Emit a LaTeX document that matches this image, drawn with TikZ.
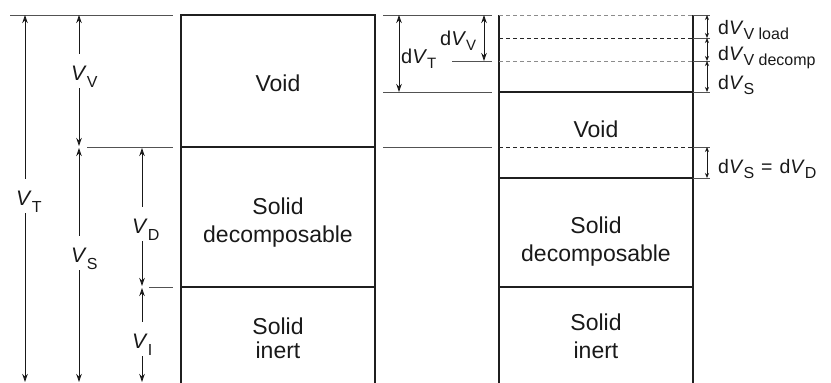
\documentclass[tikz,border=0pt]{standalone}
\usepackage{fontspec}
\setmainfont{Liberation Sans}
\usetikzlibrary{arrows.meta}
% lowered, smaller subscript: #1 drop, #2 size, #3 text
\newcommand{\subtxt}[3]{\raisebox{-#1}{\fontsize{#2}{#2}\selectfont #3}}
\newcommand{\Vit}{\textit{V}}
\tikzset{
  boxline/.style={draw=black!88, line width=1.6pt},
  extline/.style={draw=black!68, line width=0.9pt},
  dashgray/.style={draw=black!45, line width=0.9pt, dash pattern=on 4pt off 3pt},
  dashdark/.style={draw=black!85, line width=0.9pt, dash pattern=on 4pt off 3pt},
  tip/.tip={Stealth[length=8pt,width=5.5pt,inset=2.5pt]},
  smalltip/.tip={Stealth[length=5pt,width=4pt,inset=1.5pt]},
  dimarrow/.style={draw=black!90, line width=0.9pt, -tip},
  bothway/.style={draw=black!90, line width=0.9pt, tip-tip},
  smallway/.style={draw=black!90, line width=0.8pt, smalltip-smalltip},
  boxtext/.style={font=\fontsize{23}{27}\selectfont, anchor=base, inner sep=0pt, text=black!90},
  dimlab/.style={font=\fontsize{21}{21}\selectfont, anchor=base west, inner sep=0pt,
                 text height=26pt, text depth=8pt, text=black!90},
  midlab/.style={font=\fontsize{20}{20}\selectfont, anchor=base west, inner sep=0pt, text=black!90},
  sidelab/.style={font=\fontsize{19.5}{19.5}\selectfont, anchor=base west, inner sep=0pt, text=black!90},
}
\begin{document}
\begin{tikzpicture}[x=1pt,y=-1pt]
\useasboundingbox (0,0) rectangle (831,383);

% ---------- initial state: column on the left ----------
\draw[boxline] (181,383) -- (181,15) -- (375,15) -- (375,383);
\draw[boxline] (181,147) -- (375,147);
\draw[boxline] (181,287) -- (375,287);

\node[boxtext] (lvoid) at (278,91) {Void};
\node[boxtext] (lsd1) at (278,214) {Solid};
\node[boxtext] (lsd2) at (278,242) {decomposable};
\node[boxtext] (lsi1) at (278,334) {Solid};
\node[boxtext] (lsi2) at (278,358) {inert};

% extension lines on the left
\draw[extline] (10,15) -- (173,15);
\draw[extline] (87,147) -- (173,147);
\draw[extline] (149,287) -- (173,287);

% total volume
\coordinate (vtTop) at (25,15);
\coordinate (vtBot) at (25,382);
\node[dimlab] (VT) at (16,205) {\Vit\subtxt{7pt}{16}{T}};
\draw[dimarrow] (VT.north -| vtTop) -- (vtTop);
\draw[dimarrow] (VT.south -| vtBot) -- (vtBot);

% void volume
\coordinate (vvTop) at (79,15);
\coordinate (vvBot) at (79,146);
\node[dimlab] (VV) at (71,80) {\Vit\subtxt{7pt}{16}{V}};
\draw[dimarrow] (VV.north -| vvTop) -- (vvTop);
\draw[dimarrow] (VV.south -| vvBot) -- (vvBot);

% solid volume
\coordinate (vsTop) at (79,148);
\coordinate (vsBot) at (79,382);
\node[dimlab] (VS) at (71,262) {\Vit\subtxt{7pt}{16}{S}};
\draw[dimarrow] (VS.north -| vsTop) -- (vsTop);
\draw[dimarrow] (VS.south -| vsBot) -- (vsBot);

% decomposable solid volume
\coordinate (vdTop) at (142,148);
\coordinate (vdBot) at (142,286);
\node[dimlab] (VD) at (132,233) {\Vit\subtxt{7pt}{16}{D}};
\draw[dimarrow] (VD.north -| vdTop) -- (vdTop);
\draw[dimarrow] (VD.south -| vdBot) -- (vdBot);

% inert solid volume
\coordinate (viTop) at (142,288);
\coordinate (viBot) at (142,382);
\node[dimlab] (VI) at (132,348) {\Vit\subtxt{7pt}{16}{I}};
\draw[dimarrow] (VI.north -| viTop) -- (viTop);
\draw[dimarrow] (VI.south -| viBot) -- (viBot);

% ---------- middle: change of volume ----------
\draw[extline] (383,15) -- (492,15);
\draw[extline] (452,61) -- (492,61);
\draw[extline] (383,92) -- (492,92);
\draw[extline] (383,147) -- (492,147);

\coordinate (dtTop) at (399,15);
\coordinate (dtBot) at (399,92);
\draw[bothway] (dtTop) -- (dtBot);
\node[midlab] (dVT) at (401,63) {d\Vit\subtxt{5pt}{15}{T}};

\coordinate (dvTop) at (484,15);
\coordinate (dvBot) at (484,61);
\draw[bothway] (dvTop) -- (dvBot);
\node[midlab] (dVV) at (440,45) {d\Vit\subtxt{5pt}{15}{V}};

% ---------- final state: column on the right ----------
\draw[boxline] (499,383) -- (499,15);
\draw[boxline] (693,383) -- (693,15);
\draw[dashgray] (499,15) -- (693,15);
\draw[dashdark] (499,38) -- (693,38);
\draw[dashgray] (499,61) -- (693,61);
\draw[boxline] (499,92) -- (693,92);
\draw[dashdark] (499,147) -- (693,147);
\draw[boxline] (499,178) -- (693,178);
\draw[boxline] (499,287) -- (693,287);

\node[boxtext] (rvoid) at (596,137) {Void};
\node[boxtext] (rsd1) at (596,233) {Solid};
\node[boxtext] (rsd2) at (596,261) {decomposable};
\node[boxtext] (rsi1) at (596,330) {Solid};
\node[boxtext] (rsi2) at (596,358) {inert};

% extension lines on the right
\foreach \yy in {15,38,61,92,147,178}
  \draw[extline] (693,\yy) -- (710,\yy);

\coordinate (ra) at (707,15);
\coordinate (rb) at (707,38);
\coordinate (rc) at (707,61);
\coordinate (rd) at (707,92);
\coordinate (re) at (707,147);
\coordinate (rf) at (707,178);
\draw[smallway] (ra) -- (rb);
\draw[smallway] (rb) -- (rc);
\draw[smallway] (rc) -- (rd);
\draw[smallway] (re) -- (rf);

\node[sidelab] (dVload) at (718,34) {d\Vit\subtxt{5pt}{16}{V load}};
\node[sidelab] (dVdec) at (718,60) {d\Vit\subtxt{5pt}{16}{V decomp}};
\node[sidelab] (dVS) at (718,89) {d\Vit\subtxt{5pt}{16}{S}};
\node[sidelab] (dVSD) at (718,173) {d\Vit\subtxt{5pt}{16}{S}\hspace{7pt}=\hspace{7pt}d\Vit\subtxt{5pt}{16}{D}};
\end{tikzpicture}
\end{document}
